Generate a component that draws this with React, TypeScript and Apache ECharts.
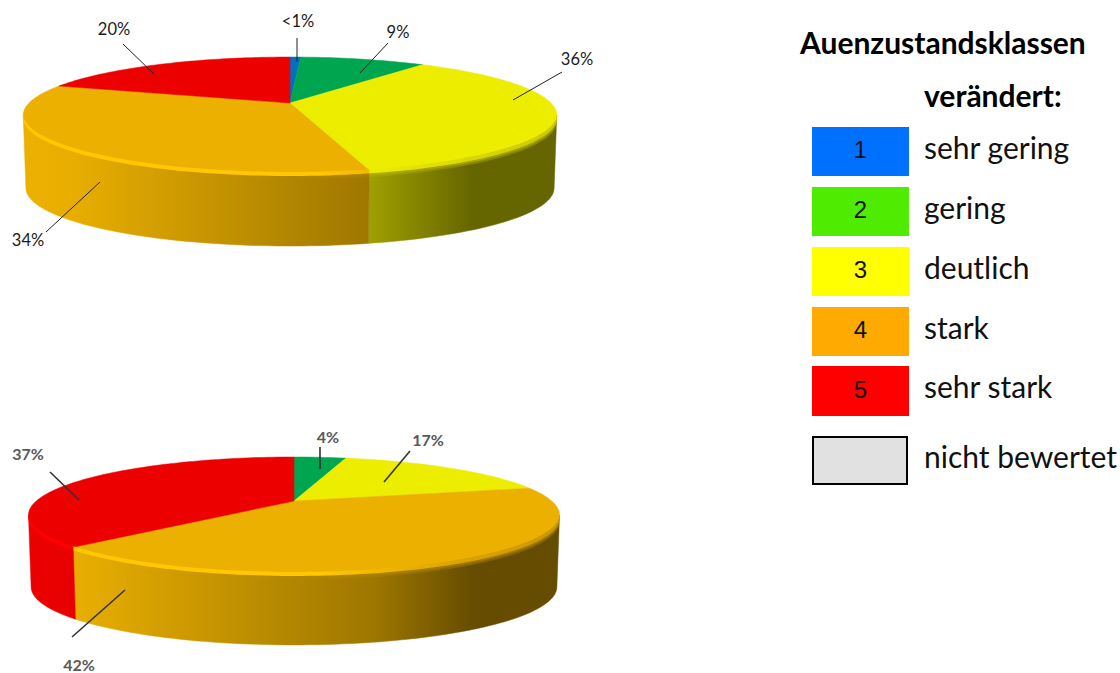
import React, { useEffect, useRef } from "react";
import * as echarts from "echarts";

const classNames = ["sehr gering", "gering", "deutlich", "stark", "sehr stark"];
const classNumbers = ["1", "2", "3", "4", "5"];
const missingName = "nicht bewertet";
const titleLine1 = "Auenzustandsklassen";
const titleLine2 = "verändert:";

const topClasses = [0, 1, 2, 3, 4];
const topValues = [0.8, 9.3, 36, 34.2, 19.7];
const topLabels = ["<1%", "9%", "36%", "34%", "20%"];

const lowClasses = [1, 2, 3, 4];
const lowValues = [4, 17, 41.6, 37.4];
const lowLabels = ["4%", "17%", "42%", "37%"];

const surfaceColors = ["#0070C0", "#00A54F", "#EDED00", "#ECB100", "#EC0000"];
const rimColors = ["#0080E0", "#00C060", "#F6F600", "#FFC800", "#FF0000"];
const legendColors = ["#0070FF", "#4FEB00", "#FFFF00", "#FFAA00", "#FF0000"];

const F = "Lato, sans-serif";

function channels(hex: string, f: number) {
  const n = parseInt(hex.slice(1), 16);
  return [(n >> 16) & 255, (n >> 8) & 255, n & 255].map((v) => Math.round(v * f));
}
function shade(hex: string, f: number, alpha = 1) {
  const c = channels(hex, f);
  return `rgba(${c[0]},${c[1]},${c[2]},${alpha})`;
}

type Geo = {
  cx: number; cy: number; A: number; B: number; a: number; depth: number; bottomScale: number;
  anchors: number[][]; labelFont: any; lineColor: string; lineWidth: number;
};

const topGeo: Geo = {
  cx: 290, cy: 103, A: 261, B: 55.5, a: 0.207, depth: 73, bottomScale: 0.99,
  // text x, text y, line start x, y, line end x, y
  anchors: [
    [298, 21, 297, 38, 297, 62],
    [398, 32, 388, 43, 360, 73],
    [577, 59, 562, 72, 513, 100],
    [28, 240, 46, 232, 100, 182],
    [114, 29, 123, 44, 154, 74],
  ],
  labelFont: { fontFamily: "Lato, sans-serif", fontSize: 16.5, fill: "#1a1a1a" },
  lineColor: "#222222",
  lineWidth: 1,
};
const lowGeo: Geo = {
  cx: 294, cy: 501, A: 257.7, B: 54.6, a: 0.241, depth: 72, bottomScale: 0.99,
  anchors: [
    [328, 436, 320, 447, 320, 469],
    [428, 439, 410, 451, 384, 482],
    [79, 664, 72, 637, 125, 590],
    [28, 453, 50, 472, 79, 500],
  ],
  labelFont: { fontFamily: "Lato, sans-serif", fontSize: 16, fontWeight: 700, fill: "#595959" },
  lineColor: "#333333",
  lineWidth: 1.6,
};

function pieSeries(geo: Geo, classes: number[], values: number[], labels: string[]) {
  const total = values.reduce((s, v) => s + v, 0);
  let acc = 0;
  const rows = values.map((v, i) => {
    const row = [acc, acc + v, classes[i]];
    acc += v;
    return row;
  });
  const rad = (d: number) => (d * Math.PI) / 180;
  const pt = (deg: number) => {
    const u = Math.sin(rad(deg));
    const v = Math.cos(rad(deg));
    const den = 1 + geo.a * v;
    return [geo.cx + (geo.A * u) / den, geo.cy - (geo.B * v) / den];
  };
  const low = (p: number[]) => [geo.cx + (p[0] - geo.cx) * geo.bottomScale, p[1] + geo.depth];
  const arc = (from: number, to: number) => {
    const n = Math.max(2, Math.ceil((to - from) / 1.5));
    const out: number[][] = [];
    for (let i = 0; i <= n; i++) out.push(pt(from + ((to - from) * i) / n));
    return out;
  };
  const skew = (Math.asin(geo.a) * 180) / Math.PI;
  const frontFrom = 90 + skew;
  const frontTo = 270 - skew;
  const R = geo.A / Math.sqrt(1 - geo.a * geo.a);
  const x0 = geo.cx - R;
  const x1 = geo.cx + R;
  const wallGrad = (col: string) =>
    new echarts.graphic.LinearGradient(
      x0, 0, x1, 0,
      [
        { offset: 0, color: shade(col, 1) },
        { offset: 0.1, color: shade(col, 0.98) },
        { offset: 0.65, color: shade(col, 0.67) },
        { offset: 0.84, color: shade(col, 0.43) },
        { offset: 1, color: shade(col, 0.43) },
      ],
      true
    );
  const rimGrad = (bright: string, col: string) =>
    new echarts.graphic.LinearGradient(
      x0, 0, x1, 0,
      [
        { offset: 0, color: shade(bright, 1) },
        { offset: 0.55, color: shade(bright, 1) },
        { offset: 0.8, color: shade(col, 0.93) },
        { offset: 1, color: shade(col, 0.85) },
      ],
      true
    );
  const blurGrad = (col: string, alpha: number) =>
    new echarts.graphic.LinearGradient(
      x0, 0, x1, 0,
      [
        { offset: 0, color: shade(col, 1, 0) },
        { offset: 0.5, color: shade(col, 1, 0) },
        { offset: 0.85, color: shade(col, 1, alpha) },
        { offset: 1, color: shade(col, 1, alpha) },
      ],
      true
    );
  const band = (edge: number[][], d0: number, d1: number) =>
    edge
      .map((p) => [p[0], p[1] + d0])
      .concat(edge.map((p) => [p[0], p[1] + d1]).reverse());

  return {
    type: "custom",
    coordinateSystem: "none",
    silent: true,
    data: rows,
    renderItem: (params: any, api: any) => {
      const s = (api.value(0) / total) * 360;
      const e = (api.value(1) / total) * 360;
      const cls = api.value(2);
      const col = surfaceColors[cls];
      const children: any[] = [];
      const wf = Math.max(s, frontFrom);
      const wt = Math.min(e, frontTo);
      if (wt > wf) {
        const edge = arc(wf, wt);
        const poly = edge.concat(edge.map(low).reverse());
        children.push({
          type: "polygon", z2: 1,
          shape: { points: poly },
          style: { fill: wallGrad(col), stroke: wallGrad(col), lineWidth: 0.5 },
        });
      }
      children.push({
        type: "polygon", z2: 2,
        shape: { points: [[geo.cx, geo.cy], ...arc(s, e)] },
        style: { fill: col, stroke: col, lineWidth: 0.5 },
      });
      if (wt > wf) {
        const edge = arc(wf, wt);
        [[0, 7, 0.22], [0, 5, 0.3], [0, 3, 0.45]].forEach((b) => {
          children.push({
            type: "polygon", z2: 3,
            shape: { points: band(edge, b[0], b[1]) },
            style: { fill: blurGrad(col, b[2]) },
          });
        });
        children.push({
          type: "polygon", z2: 4,
          shape: { points: band(edge, -1, 3) },
          style: { fill: rimGrad(rimColors[cls], col) },
        });
      }
      const an = geo.anchors[params.dataIndex];
      children.push({
        type: "line", z2: 5,
        shape: { x1: an[2], y1: an[3], x2: an[4], y2: an[5] },
        style: { stroke: geo.lineColor, lineWidth: geo.lineWidth },
      });
      children.push({
        type: "text", z2: 6,
        style: {
          x: an[0], y: an[1], text: labels[params.dataIndex],
          align: "center", verticalAlign: "middle", ...geo.labelFont,
        },
      });
      return { type: "group", children };
    },
  };
}

const legendY = [127, 187, 247, 307, 366];
const legendH = [49, 49, 49, 49, 50];

function legendGraphics() {
  const els: any[] = [
    {
      type: "text", x: 800, y: 42,
      style: { text: titleLine1, font: `700 30px ${F}`, fill: "#000", verticalAlign: "middle" },
    },
    {
      type: "text", x: 924, y: 95,
      style: { text: titleLine2, font: `700 30px ${F}`, fill: "#000", verticalAlign: "middle" },
    },
  ];
  classNames.forEach((name, i) => {
    els.push({
      type: "rect",
      shape: { x: 812, y: legendY[i], width: 97, height: legendH[i] },
      style: { fill: legendColors[i] },
    });
    els.push({
      type: "text", x: 860.5, y: legendY[i] + legendH[i] / 2 - 2,
      style: {
        text: classNumbers[i], font: "24px 'Liberation Sans', sans-serif", fill: "#111",
        align: "center", verticalAlign: "middle",
      },
    });
    els.push({
      type: "text", x: 924, y: legendY[i] + 20,
      style: { text: name, font: `30px ${F}`, fill: "#111", verticalAlign: "middle" },
    });
  });
  els.push({
    type: "rect",
    shape: { x: 813, y: 437, width: 94, height: 47 },
    style: { fill: "#E1E1E1", stroke: "#000", lineWidth: 2 },
  });
  els.push({
    type: "text", x: 924, y: 456,
    style: { text: missingName, font: `30px ${F}`, fill: "#111", verticalAlign: "middle" },
  });
  return els;
}

export default function App() {
  const ref = useRef<HTMLDivElement>(null);
  useEffect(() => {
    const chart = echarts.init(ref.current!, undefined, { renderer: "svg" });
    chart.setOption({
      animation: false,
      backgroundColor: "#ffffff",
      series: [
        pieSeries(topGeo, topClasses, topValues, topLabels),
        pieSeries(lowGeo, lowClasses, lowValues, lowLabels),
      ],
      graphic: { elements: legendGraphics() },
    });
    return () => chart.dispose();
  }, []);
  return (
    <div
      ref={ref}
      style={{ position: "fixed", left: 0, top: 0, width: 1120, height: 673 }}
    />
  );
}
